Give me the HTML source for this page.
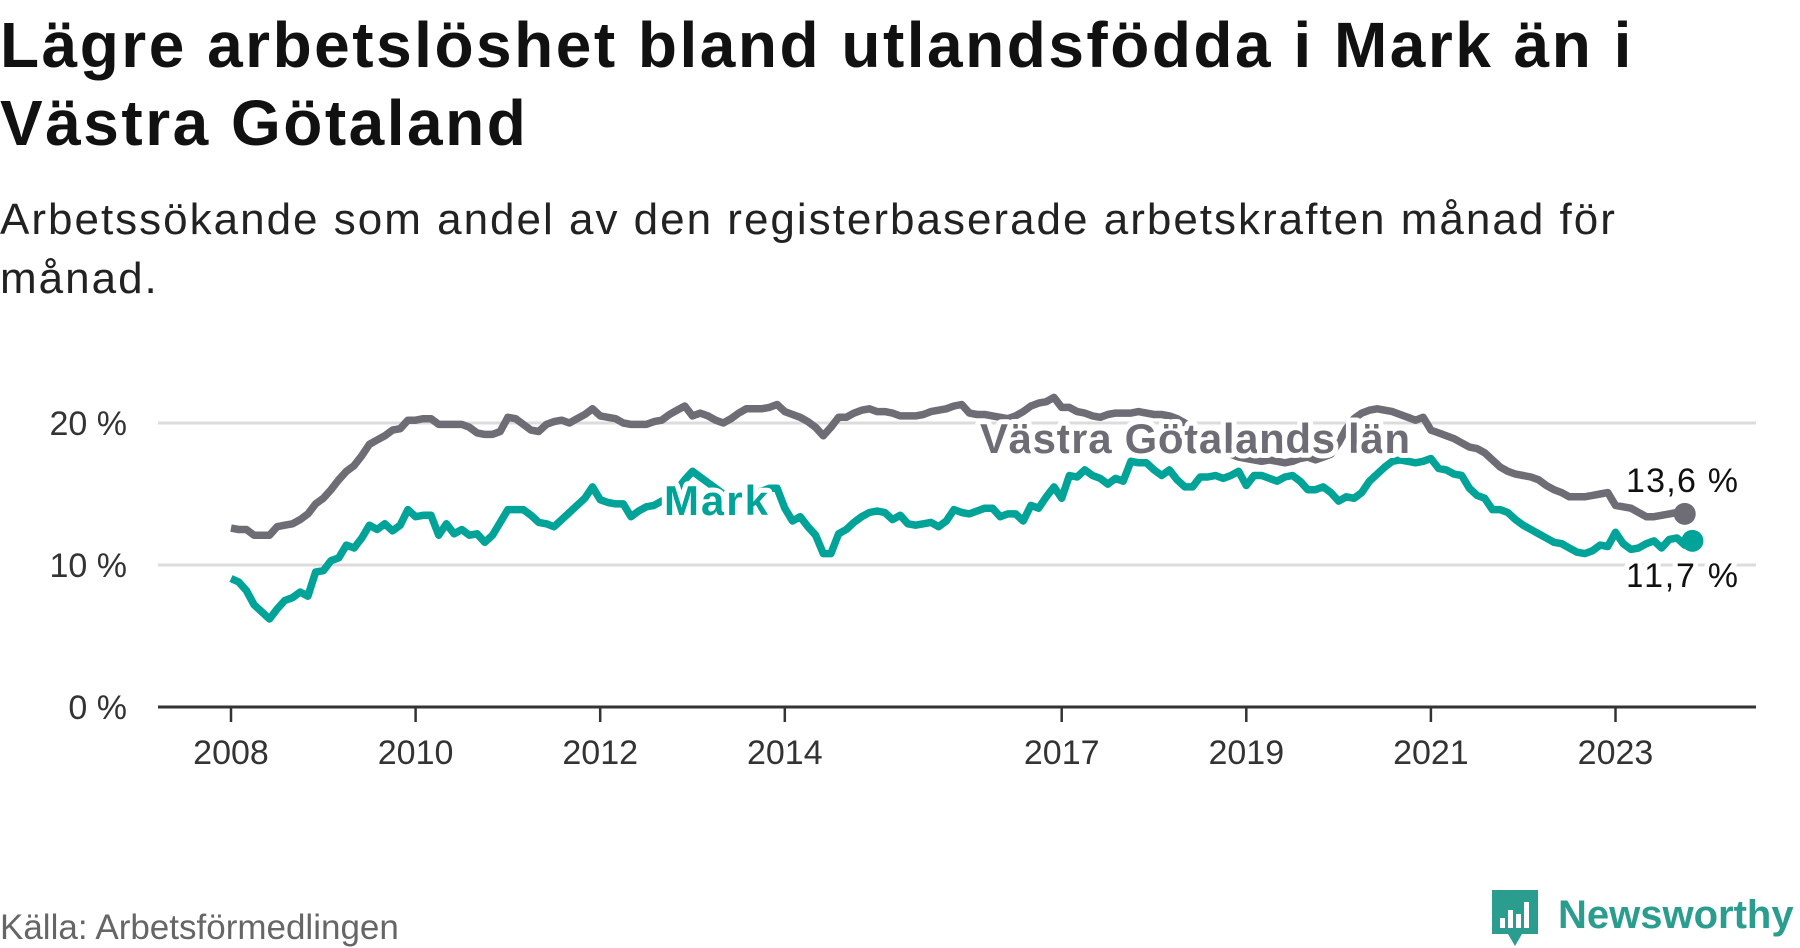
<!DOCTYPE html>
<html><head><meta charset="utf-8">
<style>
html,body{margin:0;padding:0;background:#fff;}
body{width:1800px;height:948px;overflow:hidden;position:relative;font-family:"Liberation Sans",sans-serif;color:#111;}
#title{position:absolute;left:0;top:6px;font-weight:bold;font-size:64px;line-height:78px;margin:0;width:1700px;letter-spacing:2.5px;}
#subtitle{position:absolute;left:0;top:190px;font-size:44px;line-height:59px;margin:0;width:1700px;color:#222;letter-spacing:2px;}
#source{position:absolute;left:0;top:908px;font-size:35px;color:#666;}
#logo{position:absolute;left:1490px;top:888px;}
</style></head><body>
<h1 id="title">Lägre arbetslöshet bland utlandsfödda i Mark än i Västra Götaland</h1>
<p id="subtitle">Arbetssökande som andel av den registerbaserade arbetskraften månad för månad.</p>
<svg id="chart" width="1800" height="948" style="position:absolute;left:0;top:0" xmlns="http://www.w3.org/2000/svg"></svg>
<div id="source">Källa: Arbetsförmedlingen</div>
<svg id="logo" width="310" height="60" xmlns="http://www.w3.org/2000/svg">
<path d="M2 2 H48 V46 H32 L25 58 L18 46 H2 Z" fill="#2a9d8f"/>
<rect x="10" y="30" width="5" height="10" fill="#fff"/><rect x="18" y="22" width="5" height="18" fill="#fff"/><rect x="26" y="26" width="5" height="14" fill="#fff"/><rect x="34" y="14" width="5" height="26" fill="#fff"/>
<text x="68" y="40" font-family="Liberation Sans, sans-serif" font-weight="bold" font-size="40" fill="#2a9d8f">Newsworthy</text>
</svg>
<script>
const yTicks=[0,10,20];
const yTickLabels=["0 %","10 %","20 %"];
const xTickYears=[2008,2010,2012,2014,2017,2019,2021,2023];
const startYear=2008;
const vgValues=[12.6,12.5,12.5,12.1,12.1,12.1,12.7,12.8,12.9,13.2,13.6,14.3,14.7,15.3,16.0,16.6,17.0,17.7,18.5,18.8,19.1,19.5,19.6,20.2,20.2,20.3,20.3,19.9,19.9,19.9,19.9,19.7,19.3,19.2,19.2,19.4,20.4,20.3,19.9,19.5,19.4,19.9,20.1,20.2,20.0,20.3,20.6,21.0,20.5,20.4,20.3,20.0,19.9,19.9,19.9,20.1,20.2,20.6,20.9,21.2,20.5,20.7,20.5,20.2,20.0,20.3,20.7,21.0,21.0,21.0,21.1,21.3,20.8,20.6,20.4,20.1,19.7,19.1,19.7,20.4,20.4,20.7,20.9,21.0,20.8,20.8,20.7,20.5,20.5,20.5,20.6,20.8,20.9,21.0,21.2,21.3,20.7,20.6,20.6,20.5,20.4,20.3,20.5,20.8,21.2,21.4,21.5,21.8,21.1,21.1,20.8,20.7,20.5,20.4,20.6,20.7,20.7,20.7,20.8,20.7,20.6,20.6,20.5,20.3,20.0,19.6,19.2,18.8,18.4,18.1,17.8,17.6,17.5,17.4,17.3,17.4,17.3,17.2,17.3,17.5,17.6,17.4,17.6,17.8,18.6,19.6,20.3,20.7,20.9,21.0,20.9,20.8,20.6,20.4,20.2,20.4,19.5,19.3,19.1,18.9,18.6,18.3,18.2,17.9,17.4,16.9,16.6,16.4,16.3,16.2,16.0,15.6,15.3,15.1,14.8,14.8,14.8,14.9,15.0,15.1,14.2,14.1,14.0,13.7,13.4,13.4,13.5,13.6,13.7,13.6];
const markValues=[9.05,8.8,8.2,7.2,6.7,6.2,6.9,7.5,7.7,8.1,7.8,9.5,9.6,10.3,10.5,11.4,11.2,11.9,12.8,12.5,12.9,12.4,12.8,13.9,13.4,13.5,13.5,12.1,12.9,12.2,12.5,12.1,12.2,11.6,12.1,13.0,13.9,13.9,13.9,13.5,13.0,12.9,12.7,13.2,13.7,14.2,14.7,15.5,14.6,14.4,14.3,14.3,13.4,13.8,14.1,14.2,14.5,14.7,15.3,16.0,16.6,16.2,15.8,15.4,15.0,14.8,14.9,15.0,15.1,15.2,15.4,15.4,14.0,13.1,13.4,12.7,12.1,10.8,10.8,12.2,12.5,13.0,13.4,13.7,13.8,13.7,13.2,13.5,12.9,12.8,12.9,13.0,12.7,13.1,13.9,13.7,13.6,13.8,14.0,14.0,13.4,13.6,13.6,13.1,14.2,14.0,14.8,15.5,14.7,16.3,16.2,16.7,16.3,16.1,15.7,16.1,15.9,17.3,17.2,17.2,16.7,16.3,16.7,16.0,15.5,15.5,16.2,16.2,16.3,16.1,16.3,16.6,15.6,16.3,16.3,16.1,15.9,16.2,16.3,15.9,15.3,15.3,15.5,15.1,14.5,14.8,14.7,15.1,15.9,16.4,16.9,17.3,17.4,17.3,17.2,17.3,17.5,16.8,16.7,16.4,16.3,15.4,14.9,14.7,13.9,13.9,13.7,13.2,12.8,12.5,12.2,11.9,11.6,11.5,11.2,10.9,10.8,11.0,11.4,11.3,12.3,11.5,11.1,11.2,11.5,11.7,11.2,11.8,11.9,11.4,11.7];
const vgEndLabel="13,6 %";
const markEndLabel="11,7 %";

const NS="http://www.w3.org/2000/svg";
const svg=document.getElementById('chart');
const X0=231, PX_YEAR=92.3, Y0=707, PX_PCT=14.2;
function xScale(i){return X0+i*PX_YEAR/12;}
function xYear(y){return X0+(y-startYear)*PX_YEAR;}
function yScale(v){return Y0-v*PX_PCT;}
function mk(tag,attrs){const e=document.createElementNS(NS,tag);for(const k in attrs)e.setAttribute(k,attrs[k]);svg.appendChild(e);return e;}

yTicks.forEach((t,k)=>{
  if(t>0){const g=mk('line',{x1:158,x2:1756,y1:yScale(t),y2:yScale(t),stroke:'#dcdcdc','stroke-width':3});
  
  }
  const tx=mk('text',{x:127,y:yScale(t)+12,'text-anchor':'end','font-size':34,fill:'#333','font-family':'Liberation Sans, sans-serif'});
  tx.textContent=yTickLabels[k];
  
  
});
const ax=mk('line',{x1:158,x2:1756,y1:Y0,y2:Y0,stroke:'#333','stroke-width':3});


xTickYears.forEach(yr=>{
  const x=xYear(yr);
  const t=mk('line',{x1:x,x2:x,y1:Y0,y2:Y0+15,stroke:'#333','stroke-width':2.5});
  
  
  const l=mk('text',{x:x,y:764,'text-anchor':'middle','font-size':34,fill:'#333','font-family':'Liberation Sans, sans-serif'});
  l.textContent=yr;
  
  
});
function line(vals,color,name){
  const d=vals.map((v,i)=>(i?'L':'M')+xScale(i).toFixed(1)+' '+yScale(v).toFixed(1)).join(' ');
  const p=mk('path',{d:d,fill:'none',stroke:color,'stroke-width':7.5,'stroke-linejoin':'round'});
  
  
  const n=vals.length-1;
  const c=mk('circle',{cx:xScale(n),cy:yScale(vals[n]),r:11,fill:color});
  
  
}
line(vgValues,'#6e6d75','vastra-gotaland-line');
line(markValues,'#00a398','mark-line');
function label(txt,x,y,color,size,bold,name,len){
  const t=mk('text',{x:x,y:y,'font-size':size,fill:color,'font-family':'Liberation Sans, sans-serif','font-weight':bold?'bold':'normal',stroke:'#fff','stroke-width':10,'paint-order':'stroke','stroke-linejoin':'round'});
  if(len)t.setAttribute('textLength',len);
  t.textContent=txt;
  
  
}
label('Mark',664,515,'#00a398',42,true,'mark-series-label',104);
label('Västra Götalands län',980,453,'#6e6d75',42,true,'vg-series-label',430);
const n=vgValues.length-1;
label(vgEndLabel,1626,yScale(vgValues[n])-22,'#111',34,false,'vg-end-value',112);
label(markEndLabel,1626,yScale(markValues[n])+42,'#111',34,false,'mark-end-value',112);
</script>
</body></html>
